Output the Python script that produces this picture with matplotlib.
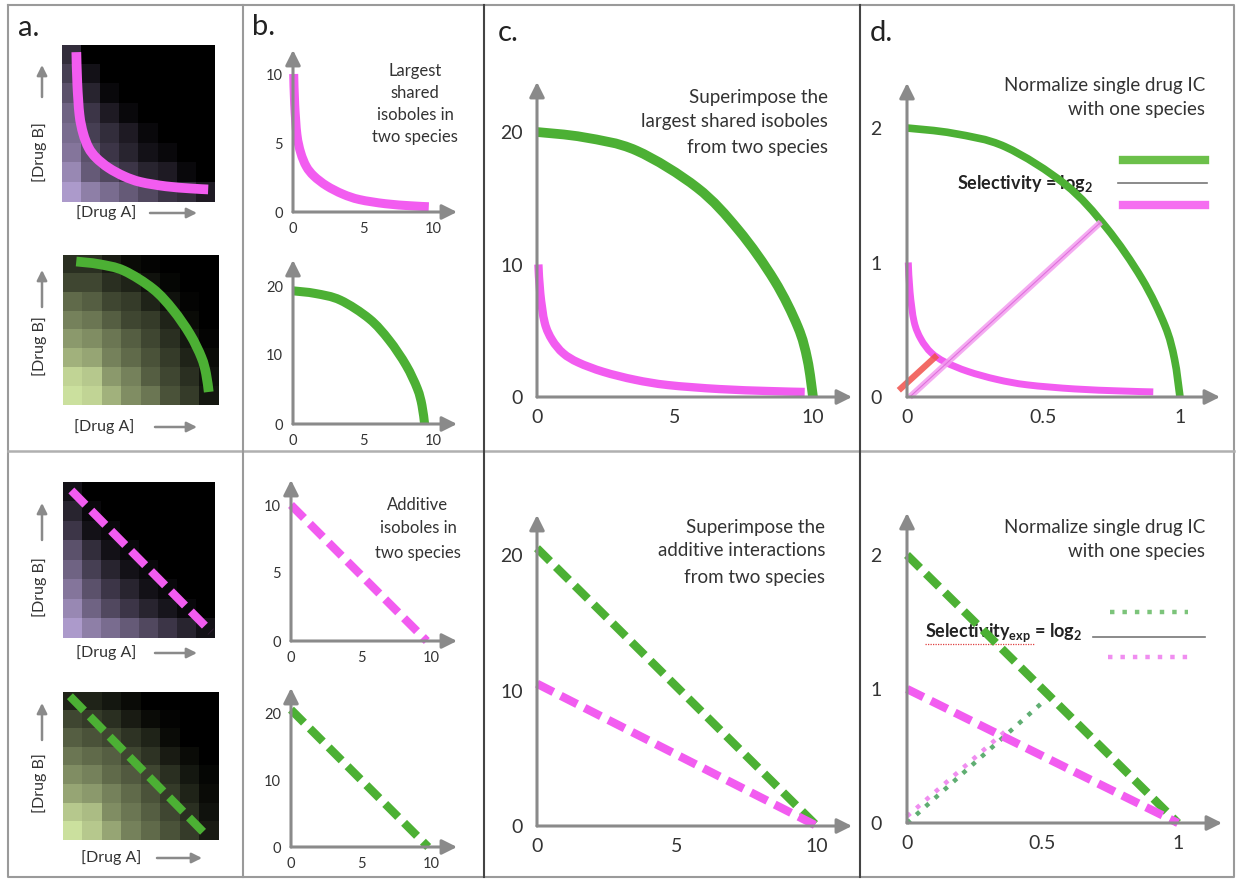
import matplotlib.pyplot as plt
import numpy as np
from matplotlib.colors import LinearSegmentedColormap
from matplotlib.path import Path
from matplotlib.patches import PathPatch

plt.rcParams['font.family'] = ['Lato', 'DejaVu Sans']
plt.rcParams['mathtext.fontset'] = 'custom'
plt.rcParams['mathtext.rm'] = 'Lato'
plt.rcParams['mathtext.bf'] = 'Lato:bold'

W, H = 1238, 880

# isobole shapes (drug A, drug B)
mag_x = [0.05, 0.12, 0.28, 0.55, 0.95, 1.5, 2.4, 3.55, 4.75, 6.6, 8.4, 9.7]
mag_y = [10.0, 7.8, 5.6, 4.3, 3.3, 2.6, 1.9, 1.3, 0.9, 0.6, 0.45, 0.38]
grn_x = [0, 1.7, 3.6, 5.8, 7.3, 8.6, 9.45, 9.8, 10.0]
grn_y = [20.0, 19.6, 18.6, 15.8, 12.6, 8.8, 5.3, 2.8, 0]

# additive isoboles
heat_add_x = [0, 10]
heat_mag_y, heat_grn_y = [10, 0], [20, 0]
add_b_mag_x, add_b_mag_y = [0, 9.7], [10, 0]
add_b_grn_x, add_b_grn_y = [0, 9.8], [20.5, 0]
add_c_mag_x, add_c_mag_y = [0, 10], [10.5, 0]
add_c_grn_x, add_c_grn_y = [0, 10], [20.5, 0]
add_d_mag_x, add_d_mag_y = [0, 1], [1, 0]
add_d_grn_x, add_d_grn_y = [0, 1], [2, 0]

# selectivity rays in d
sel_x, sel_y = [0.01, 0.71], [0, 1.3]
red_x, red_y = [-0.03, 0.11], [0.05, 0.31]
exp_grn_x, exp_grn_y = [0, 0.5], [0, 0.9]
exp_mag_x, exp_mag_y = [0, 0.36], [0.05, 0.68]

# heatmap intensities (rows top -> bottom)
heat_mag1 = [[0.25, 0, 0, 0, 0, 0, 0, 0],
             [0.35, 0.1, 0, 0, 0, 0, 0, 0],
             [0.45, 0.2, 0.05, 0, 0, 0, 0, 0],
             [0.55, 0.3, 0.15, 0.05, 0, 0, 0, 0],
             [0.6, 0.35, 0.25, 0.15, 0.05, 0, 0, 0],
             [0.65, 0.45, 0.3, 0.2, 0.1, 0.05, 0, 0],
             [0.75, 0.5, 0.4, 0.3, 0.2, 0.15, 0.05, 0],
             [0.85, 0.7, 0.6, 0.5, 0.4, 0.3, 0.25, 0.15]]
heat_grn1 = [[0.2, 0.2, 0.12, 0.05, 0.02, 0, 0, 0],
             [0.3, 0.3, 0.2, 0.15, 0.08, 0.03, 0, 0],
             [0.45, 0.4, 0.3, 0.25, 0.15, 0.08, 0.02, 0],
             [0.55, 0.5, 0.4, 0.3, 0.25, 0.15, 0.05, 0],
             [0.65, 0.6, 0.5, 0.4, 0.3, 0.2, 0.1, 0.02],
             [0.75, 0.7, 0.55, 0.45, 0.35, 0.25, 0.15, 0.05],
             [0.9, 0.85, 0.65, 0.55, 0.4, 0.3, 0.2, 0.08],
             [0.95, 0.9, 0.75, 0.6, 0.5, 0.35, 0.25, 0.1]]
heat_mag2 = [[0.1, 0, 0, 0, 0, 0, 0, 0],
             [0.2, 0.05, 0, 0, 0, 0, 0, 0],
             [0.3, 0.1, 0.05, 0, 0, 0, 0, 0],
             [0.45, 0.25, 0.1, 0.05, 0, 0, 0, 0],
             [0.55, 0.35, 0.2, 0.1, 0.05, 0, 0, 0],
             [0.65, 0.45, 0.3, 0.2, 0.1, 0.05, 0, 0],
             [0.75, 0.55, 0.4, 0.3, 0.2, 0.12, 0.05, 0],
             [0.85, 0.7, 0.6, 0.5, 0.4, 0.3, 0.2, 0.1]]
heat_grn2 = [[0.15, 0.15, 0.1, 0.05, 0, 0, 0, 0],
             [0.3, 0.25, 0.2, 0.12, 0.05, 0.02, 0, 0],
             [0.4, 0.35, 0.3, 0.22, 0.15, 0.05, 0, 0],
             [0.5, 0.45, 0.4, 0.3, 0.22, 0.12, 0.05, 0],
             [0.6, 0.55, 0.45, 0.38, 0.3, 0.2, 0.1, 0.03],
             [0.7, 0.65, 0.55, 0.45, 0.35, 0.25, 0.15, 0.05],
             [0.85, 0.8, 0.6, 0.5, 0.4, 0.3, 0.2, 0.08],
             [0.95, 0.85, 0.7, 0.55, 0.45, 0.35, 0.25, 0.12]]

MAG = '#f25cf0'
GRN = '#4cb034'
AX = '#8a8a8a'
TXT = '#333333'
DASH = (0, (2.2, 1))

fig = plt.figure(figsize=(W / 100, H / 100), dpi=100)
bg = fig.add_axes([0, 0, 1, 1])
bg.set_xlim(0, W)
bg.set_ylim(H, 0)
bg.axis('off')


def pax(x0, y0, x1, y1):
    return fig.add_axes([x0 / W, 1 - y1 / H, (x1 - x0) / W, (y1 - y0) / H])


def smooth(ax, xs, ys, sx=1.0, sy=1.0, **kw):
    # smooth bezier path through the read points
    pts = np.column_stack([np.array(xs) * sx, np.array(ys) * sy])
    verts = [pts[0]]
    codes = [Path.MOVETO]
    n = len(pts)
    for i in range(n - 1):
        p0, p1 = pts[max(i - 1, 0)], pts[i]
        p2, p3 = pts[i + 1], pts[min(i + 2, n - 1)]
        verts += [p1 + (p2 - p0) / 6, p2 - (p3 - p1) / 6, p2]
        codes += [Path.CURVE4] * 3
    ax.add_patch(PathPatch(Path(verts, codes), fill=False, capstyle='butt',
                           joinstyle='round', clip_on=False, **kw))


def arrow_axes(ox, oy, sx, sy, xtip, ytip, xt, yt, xl, yl, fs, ypad, xpad, m=6):
    ax = pax(ox - m, ytip, xtip, oy + m)
    x1 = (xtip - ox) / sx
    y1 = (oy - ytip) / sy
    ax.set_xlim(-m / sx, x1)
    ax.set_ylim(-m / sy, y1)
    for s in ax.spines.values():
        s.set_visible(False)
    ax.patch.set_visible(False)
    ax.set_xticks(xt, xl)
    ax.set_yticks(yt, yl)
    ax.tick_params(length=0, labelsize=fs, labelcolor=TXT)
    ax.tick_params(axis='y', pad=ypad)
    ax.tick_params(axis='x', pad=xpad)
    ap = dict(arrowstyle='-|>,head_length=0.6,head_width=0.3', color=AX, lw=2.2,
              mutation_scale=15, shrinkA=0, shrinkB=0)
    ax.annotate('', xy=(x1, 0), xytext=(0, 0), arrowprops=ap, annotation_clip=False)
    ax.annotate('', xy=(0, y1), xytext=(0, 0), arrowprops=ap, annotation_clip=False)
    return ax


def heat_axes(box, data, color, xlim, ylim):
    ax = pax(*box)
    cmap = LinearSegmentedColormap.from_list('c', ['#000000', color])
    ax.imshow(np.array(data), cmap=cmap, vmin=0, vmax=1, aspect='auto',
              extent=(xlim[0], xlim[1], ylim[0], ylim[1]), interpolation='nearest')
    ax.set_xlim(xlim)
    ax.set_ylim(ylim)
    ax.axis('off')
    return ax


def drug_labels(cx, cy, ax0, ax1, bx, by, up0, up1):
    ap = dict(arrowstyle='-|>,head_length=0.5,head_width=0.25', color=AX,
              lw=1.8, mutation_scale=12, shrinkA=0, shrinkB=0)
    bg.text(cx, cy, '[Drug A]', ha='center', va='center', fontsize=11.5, color=TXT)
    bg.annotate('', xy=(ax1, cy), xytext=(ax0, cy), arrowprops=ap)
    bg.text(bx, by, '[Drug B]', ha='center', va='center', fontsize=11.5, color=TXT, rotation=90)
    bg.annotate('', xy=(42, up1), xytext=(42, up0), arrowprops=ap)


# panel frames
bg.plot([8, 1234, 1234, 8, 8], [5, 5, 877, 877, 5], color='#9a9a9a', lw=1.5)
bg.plot([8, 1234], [451, 451], color='#b0b0b0', lw=1.8)
bg.plot([243, 243], [5, 877], color='#9a9a9a', lw=1.5)
bg.plot([484, 484], [5, 877], color='#444444', lw=1.5)
bg.plot([860, 860], [5, 877], color='#444444', lw=1.5)

for lab, x, y in [('a.', 18, 28), ('b.', 252, 27), ('c.', 498, 33), ('d.', 870, 33)]:
    bg.text(x, y, lab, ha='left', va='center', fontsize=21, color='#222222')

# ---- a: heatmaps
h1 = heat_axes((62, 45, 215, 202), heat_mag1, '#cbb5ef', (-1, 10.2), (-0.5, 10.5))
smooth(h1, mag_x, mag_y, edgecolor=MAG, lw=7)
h2 = heat_axes((63, 255, 218, 405), heat_grn1, '#d6eca6', (-1, 10.7), (-2, 21))
smooth(h2, grn_x, grn_y, edgecolor=GRN, lw=7)
h3 = heat_axes((63, 482, 215, 638), heat_mag2, '#cbb5ef', (-0.6, 10.3), (-0.45, 10.6))
h3.plot(heat_add_x, heat_mag_y, color=MAG, lw=6, linestyle=(0, (2.4, 1)))
h4 = heat_axes((63, 692, 218, 840), heat_grn2, '#d6eca6', (-0.5, 10.7), (-0.4, 20.6))
h4.plot(heat_add_x, heat_grn_y, color=GRN, lw=6, linestyle=(0, (2.4, 1)))

drug_labels(106, 213, 150, 197, 40, 152, 97, 65)
drug_labels(104, 427, 155, 197, 40, 346, 307, 270)
drug_labels(106, 653, 155, 197, 40, 587, 540, 503)
drug_labels(111, 858, 157, 202, 40, 783, 740, 703)

# ---- b
t5 = [0, 5, 10]
l5 = ['0', '5', '10']
b1 = arrow_axes(293, 212, 14, 13.8, 457, 50, t5, t5, l5, l5, 10.5, 3, 3)
smooth(b1, mag_x, mag_y, edgecolor=MAG, lw=6.5)
b2 = arrow_axes(293, 424, 14, 6.9, 457, 260, t5, [0, 10, 20], l5, ['0', '10', '20'], 10.5, 3, 3)
smooth(b2, grn_x, grn_y, 0.94, 0.965, edgecolor=GRN, lw=6.5)
b3 = arrow_axes(291, 641, 14, 13.6, 457, 480, t5, t5, l5, l5, 10.5, 3, 3)
b3.plot(add_b_mag_x, add_b_mag_y, color=MAG, lw=6, linestyle=DASH, clip_on=False)
b4 = arrow_axes(291, 847, 14, 6.7, 457, 688, t5, [0, 10, 20], l5, ['0', '10', '20'], 10.5, 3, 3)
b4.plot(add_b_grn_x, add_b_grn_y, color=GRN, lw=6, linestyle=DASH, clip_on=False)

for s, y in zip(['Largest', 'shared', 'isoboles in', 'two species'], [71, 93, 115, 137]):
    bg.text(415, y, s, ha='center', va='center', fontsize=12, color=TXT)
for s, y in zip(['Additive', 'isoboles in', 'two species'], [505, 528, 553]):
    bg.text(418, y, s, ha='center', va='center', fontsize=12, color=TXT)

# ---- c
c1 = arrow_axes(537, 397, 27.6, 13.25, 852, 82, t5, [0, 10, 20], l5, ['0', '10', '20'], 14, 6, 4)
smooth(c1, grn_x, grn_y, edgecolor=GRN, lw=7)
smooth(c1, mag_x, mag_y, edgecolor=MAG, lw=6)
c2 = arrow_axes(537, 826, 28, 13.55, 852, 515, t5, [0, 10, 20], l5, ['0', '10', '20'], 14, 6, 4)
c2.plot(add_c_grn_x, add_c_grn_y, color=GRN, lw=6, linestyle=DASH, clip_on=False)
c2.plot(add_c_mag_x, add_c_mag_y, color=MAG, lw=6, linestyle=DASH, clip_on=False)

for s, y in zip(['Superimpose the', 'largest shared isoboles', 'from two species'], [97, 122, 148]):
    bg.text(828, y, s, ha='right', va='center', fontsize=13.5, color=TXT)
for s, y in zip(['Superimpose the', 'additive interactions', 'from two species'], [527, 551, 577]):
    bg.text(825, y, s, ha='right', va='center', fontsize=13.5, color=TXT)

# ---- d
d1 = arrow_axes(907, 397, 273, 134.5, 1220, 83, [0, 0.5, 1], [0, 1, 2], ['0', '0.5', '1'], ['0', '1', '2'], 14, 14, 4)
d1.plot(sel_x, sel_y, color='#f39cef', lw=4.5, alpha=0.85, solid_capstyle='butt', clip_on=False)
d1.plot(sel_x, sel_y, color='#e06fdd', lw=0.8, clip_on=False)
d1.plot(red_x, red_y, color='#f0504a', lw=4.5, alpha=0.85, solid_capstyle='butt', clip_on=False)
smooth(d1, grn_x, grn_y, 0.1, 0.1, edgecolor=GRN, lw=5.5)
smooth(d1, mag_x, mag_y, 0.093, 0.1, edgecolor=MAG, lw=5)

d2 = arrow_axes(907, 823, 271, 134, 1222, 513, [0, 0.5, 1], [0, 1, 2], ['0', '0.5', '1'], ['0', '1', '2'], 14, 14, 4)
d2.plot(exp_mag_x, exp_mag_y, color='#f08ef0', lw=3.2, linestyle=(0, (1, 1.8)), clip_on=False)
d2.plot(exp_grn_x, exp_grn_y, color='#5fae72', lw=3.2, linestyle=(0, (1, 1.8)), clip_on=False)
d2.plot(add_d_grn_x, add_d_grn_y, color=GRN, lw=6, linestyle=DASH, clip_on=False)
d2.plot(add_d_mag_x, add_d_mag_y, color=MAG, lw=6, linestyle=DASH, clip_on=False)

for s, y in zip(['Normalize single drug IC', 'with one species'], [86, 109]):
    bg.text(1205, y, s, ha='right', va='center', fontsize=13.5, color=TXT)
for s, y in zip(['Normalize single drug IC', 'with one species'], [527, 552]):
    bg.text(1205, y, s, ha='right', va='center', fontsize=13.5, color=TXT)

# selectivity fractions
bg.plot([1123, 1205], [160, 160], color='#6cc04a', lw=6)
bg.plot([1118, 1207], [183, 183], color='#777777', lw=1.2)
bg.plot([1123, 1205], [205, 205], color='#f56ef0', lw=6)
bg.text(957, 183, r'Selectivity = log$_\mathbf{2}$', ha='left', va='center',
        fontsize=13, fontweight='bold', color='#222222')

bg.plot([1110, 1188], [612, 612], color='#7cc47a', lw=3.2, linestyle=(0, (1, 1.8)))
bg.plot([1093, 1205], [637, 637], color='#777777', lw=1.2)
bg.plot([1108, 1188], [657, 657], color='#f08ef0', lw=3.2, linestyle=(0, (1, 1.8)))
bg.text(925, 633, r'Selectivity$_\mathbf{exp}$ = log$_\mathbf{2}$', ha='left', va='center',
        fontsize=13, fontweight='bold', color='#222222')
bg.plot([925, 1035], [644, 644], color='#e04040', lw=0.9, linestyle=(0, (1, 1)))

fig.savefig('out.png', dpi=100)
